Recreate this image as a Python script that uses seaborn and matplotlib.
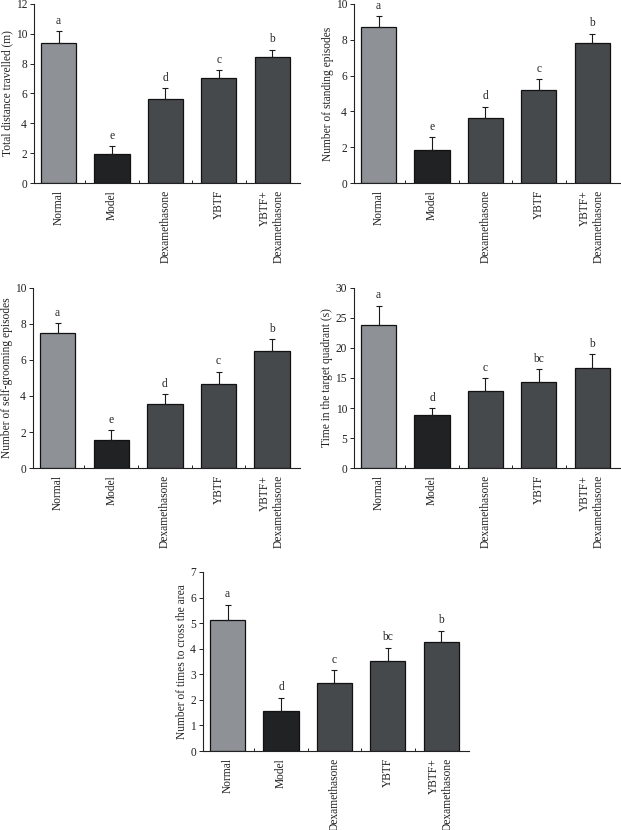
import matplotlib
matplotlib.use("Agg")
import matplotlib.pyplot as plt
import seaborn as sns
import numpy as np
import pandas as pd

sns.set_theme(style="white")
plt.rcParams['font.family'] = ['Liberation Serif', 'DejaVu Serif']

categories = ["Normal", "Model", "Dexamethasone", "YBTF", "YBTF+\nDexamethasone"]
colors = ["#8e9296", "#212224", "#46494c", "#46494c", "#46494c"]

dist_mean = [9.39, 1.97, 5.63, 7.04, 8.45]
dist_err = [0.78, 0.49, 0.74, 0.51, 0.49]
dist_letters = ["a", "e", "d", "c", "b"]

stand_mean = [8.71, 1.82, 3.63, 5.20, 7.80]
stand_err = [0.60, 0.73, 0.62, 0.61, 0.54]
stand_letters = ["a", "e", "d", "c", "b"]

groom_mean = [7.49, 1.58, 3.57, 4.65, 6.52]
groom_err = [0.54, 0.52, 0.52, 0.70, 0.64]
groom_letters = ["a", "e", "d", "c", "b"]

time_mean = [23.87, 8.76, 12.83, 14.39, 16.62]
time_err = [3.18, 1.17, 2.12, 2.06, 2.34]
time_letters = ["a", "d", "c", "bc", "b"]

cross_mean = [5.14, 1.56, 2.67, 3.51, 4.25]
cross_err = [0.58, 0.53, 0.48, 0.52, 0.46]
cross_letters = ["a", "d", "c", "bc", "b"]

panels = [
    (dist_mean, dist_err, dist_letters, "Total distance travelled (m)", 12, 2, (34, 300, 4, 183), 13),
    (stand_mean, stand_err, stand_letters, "Number of standing episodes", 10, 2, (354, 620, 4, 183), 334),
    (groom_mean, groom_err, groom_letters, "Number of self-grooming episodes", 10, 2, (33, 300, 288, 468), 13),
    (time_mean, time_err, time_letters, "Time in the target quadrant (s)", 30, 5, (354, 620, 288, 468), 333),
    (cross_mean, cross_err, cross_letters, "Number of times to cross the area", 7, 1, (203, 469, 572, 751), 188),
]

W, H = 621, 830
fig = plt.figure(figsize=(W / 100, H / 100), dpi=100)

for mean, err, letters, ylabel, ymax, step, (l, r, t, b), lab_x in panels:
    ax = fig.add_axes([l / W, 1 - b / H, (r - l) / W, (b - t) / H])
    df = pd.DataFrame({"group": categories, "value": mean})
    sns.barplot(data=df, x="group", y="value", hue="group", palette=colors,
                legend=False, width=0.66, edgecolor="#111111", linewidth=0.9,
                ax=ax, saturation=1)
    x = np.arange(len(categories))
    ax.errorbar(x, mean, yerr=[np.zeros(len(mean)), err], fmt="none",
                ecolor="#1a1a1a", elinewidth=0.8, capsize=2.5, capthick=0.8)
    for xi, m, e, lt in zip(x, mean, err, letters):
        ax.text(xi, m + e + ymax * 0.025, lt, ha="center", va="bottom",
                fontsize=8.3, color="#222222")
    ax.set_xlim(-0.46, 4.52)
    ax.set_ylim(0, ymax)
    ax.set_yticks(np.arange(0, ymax + 0.01, step))
    ax.set_yticklabels([str(int(v)) for v in np.arange(0, ymax + 0.01, step)])
    ax.set_xticks(x)
    ax.set_xticklabels(categories, rotation=90, ma="right", fontsize=8.3)
    ax.set_xticks([0.5, 1.5, 2.5, 3.5], minor=True)
    ax.tick_params(axis="x", which="major", length=0, pad=5)
    ax.tick_params(axis="x", which="minor", length=2.5, direction="in",
                   width=0.7, color="#222222", bottom=True)
    ax.tick_params(axis="y", length=3, width=0.7, direction="out",
                   color="#222222", labelsize=8.3, pad=2, left=True)
    ax.set_xlabel("")
    ax.set_ylabel(ylabel, fontsize=8.3, color="#222222")
    ax.yaxis.set_label_coords((lab_x - l) / (r - l), 0.5)
    for s in ["top", "right"]:
        ax.spines[s].set_visible(False)
    for s in ["left", "bottom"]:
        ax.spines[s].set_color("#222222")
        ax.spines[s].set_linewidth(0.8)
    for lab in ax.get_xticklabels() + ax.get_yticklabels():
        lab.set_color("#222222")

fig.savefig("out.png", dpi=100, facecolor="white")
